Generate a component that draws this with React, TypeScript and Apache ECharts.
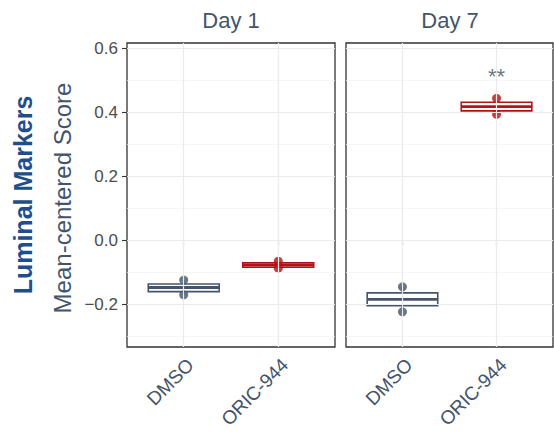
import React, { useEffect, useRef } from 'react';
import * as echarts from 'echarts';

const panels = ['Day 1', 'Day 7'];
const categories = ['DMSO', 'ORIC-944'];
// box stats: [min, Q1, median, Q3, max]
const day1Boxes = [
  [-0.171, -0.161, -0.148, -0.137, -0.125],
  [-0.088, -0.085, -0.078, -0.071, -0.066],
];
const day7Boxes = [
  [-0.224, -0.205, -0.185, -0.165, -0.146],
  [0.393, 0.404, 0.417, 0.431, 0.443],
];
const day1Points = [
  [-0.125, -0.171],
  [-0.066, -0.088],
];
const day7Points = [
  [-0.146, -0.224],
  [0.393, 0.443],
];
const yTicks = [-0.2, 0, 0.2, 0.4, 0.6];
const yMinor = [-0.3, -0.1, 0.1, 0.3, 0.5];
const yRange = [-0.334, 0.616];
const sigPanel = 1;
const sigCategory = 2;
const sigLabel = '**';
const sigY = 0.512;

const SLATE = '#44546A';
const RED = '#B31217';
const colors = [SLATE, RED];
const FONT = 'Liberation Sans, Arial, sans-serif';

const fmt = (v: number) => {
  const s = Math.abs(v).toFixed(1);
  return v < -1e-9 ? '\u2212' + s : s;
};

export default function App() {
  const ref = useRef<HTMLDivElement>(null);
  useEffect(() => {
    if (!ref.current) return;
    const chart = echarts.init(ref.current, null, { renderer: 'svg' });
    const boxesAll = [day1Boxes, day7Boxes];
    const pointsAll = [day1Points, day7Points];
    const grids = [
      { left: 127, top: 43, width: 208, height: 304 },
      { left: 346, top: 43, width: 207, height: 304 },
    ];
    const major = { color: '#EBEBEB', width: 1.2, type: 'solid' };
    const minor = { color: '#F2F2F2', width: 0.7, type: 'solid' };
    const series: any[] = [];
    panels.forEach((_, i) => {
      series.push({
        type: 'line',
        xAxisIndex: i,
        yAxisIndex: i,
        data: [],
        z: 1,
        silent: true,
        markLine: {
          silent: true,
          symbol: ['none', 'none'],
          label: { show: false },
          animation: false,
          data: [
            ...yMinor.map((v) => ({ yAxis: v, lineStyle: minor })),
            ...yTicks.map((v) => ({ yAxis: v, lineStyle: major })),
            ...categories.map((_, j) => ({ xAxis: j + 1, lineStyle: major })),
          ],
        },
      });
      series.push({
        type: 'custom',
        xAxisIndex: i,
        yAxisIndex: i,
        z: 3,
        encode: { x: 0, y: [1, 2, 3, 4, 5] },
        data: boxesAll[i].map((b, j) => [j + 1, ...b]),
        renderItem: (params: any, api: any) => {
          const x = api.value(0);
          const j = Math.round(x) - 1;
          const c = colors[j];
          const half = api.size([0.75, 0])[0] / 2;
          const pMin = api.coord([x, api.value(1)]);
          const pQ1 = api.coord([x, api.value(2)]);
          const pMed = api.coord([x, api.value(3)]);
          const pQ3 = api.coord([x, api.value(4)]);
          const pMax = api.coord([x, api.value(5)]);
          return {
            type: 'group',
            children: [
              { type: 'line', shape: { x1: pMin[0], y1: pMin[1], x2: pQ1[0], y2: pQ1[1] }, style: { stroke: c, lineWidth: 1.5 } },
              { type: 'line', shape: { x1: pQ3[0], y1: pQ3[1], x2: pMax[0], y2: pMax[1] }, style: { stroke: c, lineWidth: 1.5 } },
              { type: 'rect', shape: { x: pQ3[0] - half, y: pQ3[1], width: half * 2, height: pQ1[1] - pQ3[1] }, style: { fill: '#fff', stroke: c, lineWidth: 1.6 } },
              { type: 'line', shape: { x1: pMed[0] - half, y1: pMed[1], x2: pMed[0] + half, y2: pMed[1] }, style: { stroke: c, lineWidth: 2.8 } },
            ],
          };
        },
      });
      const pts: any[] = [];
      pointsAll[i].forEach((arr, j) => arr.forEach((v) => pts.push({ value: [j + 1, v], itemStyle: { color: colors[j] } })));
      series.push({
        type: 'scatter',
        xAxisIndex: i,
        yAxisIndex: i,
        z: 4,
        symbolSize: 9,
        data: pts,
      });
      if (i === sigPanel) {
        series.push({
          type: 'scatter',
          xAxisIndex: i,
          yAxisIndex: i,
          z: 5,
          symbolSize: 0.1,
          itemStyle: { color: 'rgba(0,0,0,0)' },
          data: [{ value: [sigCategory, sigY] }],
          label: { show: true, position: 'inside', formatter: sigLabel, fontSize: 22, color: SLATE, fontFamily: FONT },
        });
      }
    });

    chart.setOption({
      animation: false,
      backgroundColor: '#fff',
      grid: grids.map((g) => ({
        ...g,
        show: true,
        borderColor: '#333',
        borderWidth: 1.3,
        backgroundColor: '#fff',
        containLabel: false,
        outerBoundsMode: 'none',
      })),
      xAxis: panels.map((_, i) => ({
        type: 'value',
        gridIndex: i,
        min: 0.4,
        max: 2.6,
        splitLine: { show: false },
        axisLine: { show: false },
        axisTick: { show: true, customValues: [1, 2], length: 5, lineStyle: { color: '#333', width: 1.1 } },
        axisLabel: {
          customValues: [1, 2],
          formatter: (v: number) => categories[Math.round(v) - 1] || '',
          rotate: 45,
          fontSize: 19,
          color: SLATE,
          fontFamily: FONT,
          margin: 8,
          align: 'right',
          verticalAlign: 'top',
          lineHeight: 19,
        },
      })),
      yAxis: panels.map((_, i) => ({
        type: 'value',
        gridIndex: i,
        min: yRange[0],
        max: yRange[1],
        splitLine: { show: false },
        axisLine: { show: false },
        axisTick: { show: i === 0, customValues: yTicks, length: 5, lineStyle: { color: '#333', width: 1.1 } },
        axisLabel: {
          show: i === 0,
          customValues: yTicks,
          formatter: (v: number) => fmt(v),
          fontSize: 17,
          color: '#4D4D4D',
          fontFamily: FONT,
          margin: 9,
        },
      })),
      graphic: [
        { type: 'text', x: 231, y: 20, style: { text: panels[0], fontSize: 22, fill: SLATE, fontFamily: FONT, textAlign: 'center', textVerticalAlign: 'middle' } },
        { type: 'text', x: 450, y: 20, style: { text: panels[1], fontSize: 22, fill: SLATE, fontFamily: FONT, textAlign: 'center', textVerticalAlign: 'middle' } },
        { type: 'text', x: 62, y: 198, rotation: Math.PI / 2, style: { text: 'Mean-centered Score', fontSize: 24, fill: SLATE, fontFamily: FONT, textAlign: 'center', textVerticalAlign: 'middle' } },
        { type: 'text', x: 23, y: 195, rotation: Math.PI / 2, style: { text: 'Luminal Markers', fontSize: 25, fontWeight: 'bold', fill: '#1F4E8F', fontFamily: FONT, textAlign: 'center', textVerticalAlign: 'middle' } },
      ],
      series,
    });
    return () => chart.dispose();
  }, []);
  return <div ref={ref} style={{ width: 554, height: 432, position: 'absolute', left: 0, top: 0 }} />;
}
